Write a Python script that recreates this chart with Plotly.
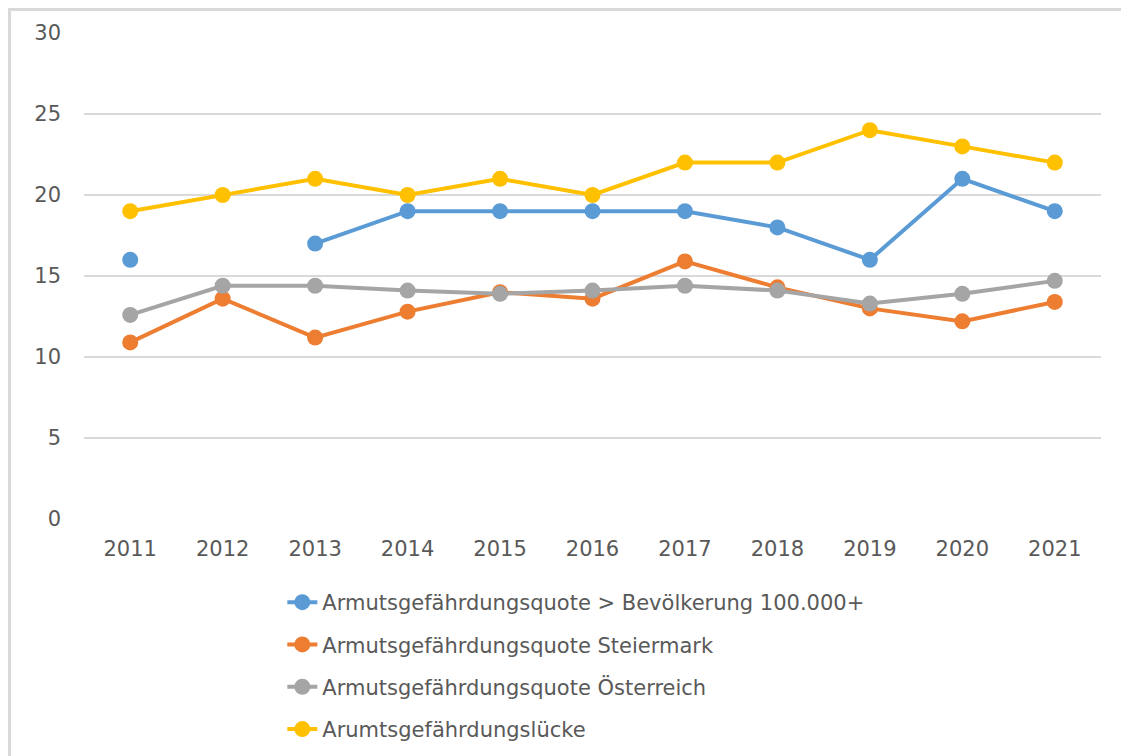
import plotly.graph_objects as go

years = ["2011", "2012", "2013", "2014", "2015", "2016", "2017", "2018", "2019", "2020", "2021"]
blue_vals = [16, None, 17, 19, 19, 19, 19, 18, 16, 21, 19]
orange_vals = [10.9, 13.6, 11.2, 12.8, 14.0, 13.6, 15.9, 14.3, 13.0, 12.2, 13.4]
gray_vals = [12.6, 14.4, 14.4, 14.1, 13.9, 14.1, 14.4, 14.1, 13.3, 13.9, 14.7]
yellow_vals = [19, 20, 21, 20, 21, 20, 22, 22, 24, 23, 22]

names = [
    "Armutsgefährdungsquote > Bevölkerung 100.000+",
    "Armutsgefährdungsquote Steiermark",
    "Armutsgefährdungsquote Österreich",
    "Arumtsgefährdungslücke",
]
colors = ["#5B9BD5", "#ED7D31", "#A5A5A5", "#FFC000"]
series = [blue_vals, orange_vals, gray_vals, yellow_vals]

fig = go.Figure()
for i, (nm, col, vals) in enumerate(zip(names, colors, series)):
    fig.add_trace(go.Scatter(
        x=years, y=vals, name=nm, mode="lines+markers",
        line=dict(color=col, width=4),
        marker=dict(color=col, size=16),
        connectgaps=False, legendgroup=f"g{i}",
    ))

font_fam = "DejaVu Sans, sans-serif"
W, H = 1121, 760
fig.update_layout(
    width=W, height=H,
    margin=dict(l=76, r=28, t=25, b=249),
    paper_bgcolor="white", plot_bgcolor="white",
    font=dict(family=font_fam, size=21, color="#595959"),
    showlegend=True,
    legend=dict(
        orientation="v", x=0.195, xanchor="left", y=-0.1296, yanchor="top",
        font=dict(size=21, color="#595959"), tracegroupgap=12,
        bgcolor="rgba(0,0,0,0)",
    ),
    xaxis=dict(
        type="category", range=[-0.5, 10.5], showgrid=False, zeroline=False,
        showline=False, ticks="", tickfont=dict(size=21, color="#595959"),
        ticklabelstandoff=15,
    ),
    yaxis=dict(
        range=[0, 30], tickvals=[0, 5, 10, 15, 20, 25, 30], showgrid=True,
        gridcolor="#D9D9D9", gridwidth=1.5, zeroline=False, showline=False,
        ticks="", tickfont=dict(size=21, color="#595959"),
        ticklabelstandoff=22,
    ),
    shapes=[
        dict(type="line", xref="paper", yref="paper",
             x0=-74.5 / 1017, x1=-74.5 / 1017, y0=(486 + 23.5) / 486, y1=-250 / 486,
             line=dict(color="#D9D9D9", width=3)),
        dict(type="line", xref="paper", yref="paper",
             x0=-76 / 1017, x1=1.03, y0=(486 + 23.5) / 486, y1=(486 + 23.5) / 486,
             line=dict(color="#D9D9D9", width=3)),
    ],
)

fig.write_html("out.html")
